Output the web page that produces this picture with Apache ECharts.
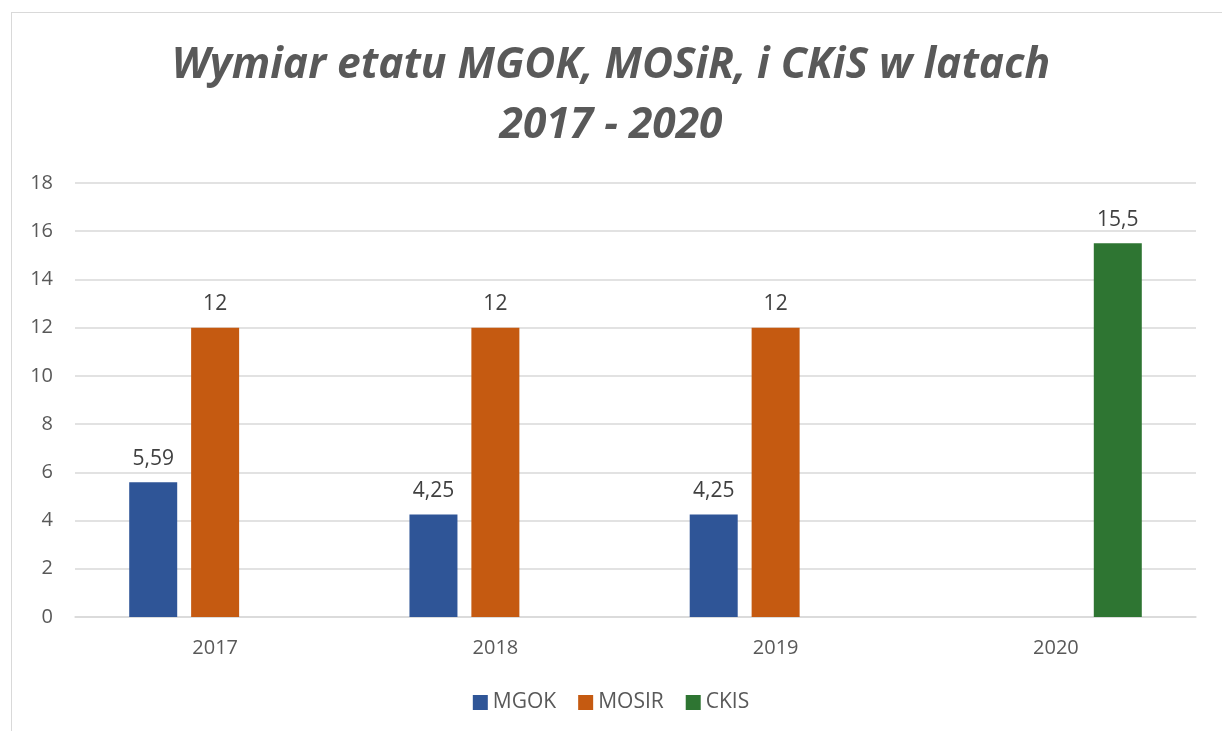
<!DOCTYPE html>
<html>
<head>
<meta charset="utf-8">
<script src="https://cdn.jsdelivr.net/npm/echarts@6/dist/echarts.min.js"></script>
<style>
  html, body { margin: 0; padding: 0; background: #fff; }
  #frame { position: absolute; left: 11px; top: 12px; width: 1230px; height: 740px;
           border: 1px solid #d9d9d9; box-sizing: border-box; }
  #chart { position: absolute; left: 0; top: 0; width: 1222px; height: 731px; }
</style>
</head>
<body>
<div id="frame"></div>
<div id="chart"></div>
<script>
// data
var years = ['2017', '2018', '2019', '2020'];
var mgok = [5.59, 4.25, 4.25, null];
var mosir = [12, 12, 12, null];
var ckis = [null, null, null, 15.5];
var seriesNames = ['MGOK', 'MOSIR', 'CKIS'];
var colors = ['#2F5597', '#C55A11', '#2E7532'];

var font = '"Open Sans", sans-serif';
var textCol = '#595959';

function commaLabel(p) {
  return String(p.value).replace('.', ',');
}

function makeSeries(name, data, color) {
  return {
    name: name,
    type: 'bar',
    data: data,
    barWidth: 48,
    barGap: '29%',
    itemStyle: { color: color },
    label: {
      show: true,
      position: 'top',
      distance: 13,
      color: '#404040',
      fontFamily: font,
      fontSize: 21,
      formatter: commaLabel
    }
  };
}

var chart = echarts.init(document.getElementById('chart'));
chart.setOption({
  animation: false,
  color: colors,
  title: {
    text: 'Wymiar etatu MGOK, MOSiR, i CKiS w latach\n2017 - 2020',
    left: 'center',
    top: 31,
    textStyle: {
      fontFamily: font,
      fontSize: 42.5,
      fontWeight: 'bold',
      fontStyle: 'italic',
      color: textCol,
      lineHeight: 60
    }
  },
  legend: {
    top: 687,
    left: 'center',
    itemWidth: 15,
    itemHeight: 15,
    itemGap: 22,
    icon: 'rect',
    textStyle: { fontFamily: font, fontSize: 21, color: textCol },
    data: seriesNames
  },
  grid: { left: 75, right: 26, top: 183, bottom: 114 },
  xAxis: {
    type: 'category',
    data: years,
    axisLine: { lineStyle: { color: '#d9d9d9', width: 1.5 } },
    axisTick: { show: false },
    axisLabel: { fontFamily: font, fontSize: 20, color: textCol, margin: 21 }
  },
  yAxis: {
    type: 'value',
    min: 0,
    max: 18,
    interval: 2,
    axisLine: { show: false },
    axisTick: { show: false },
    splitLine: { lineStyle: { color: '#d9d9d9', width: 1.5 } },
    axisLabel: { fontFamily: font, fontSize: 20, color: textCol, margin: 22 }
  },
  series: [
    makeSeries(seriesNames[0], mgok, colors[0]),
    makeSeries(seriesNames[1], mosir, colors[1]),
    makeSeries(seriesNames[2], ckis, colors[2])
  ]
});
</script>
</body>
</html>
